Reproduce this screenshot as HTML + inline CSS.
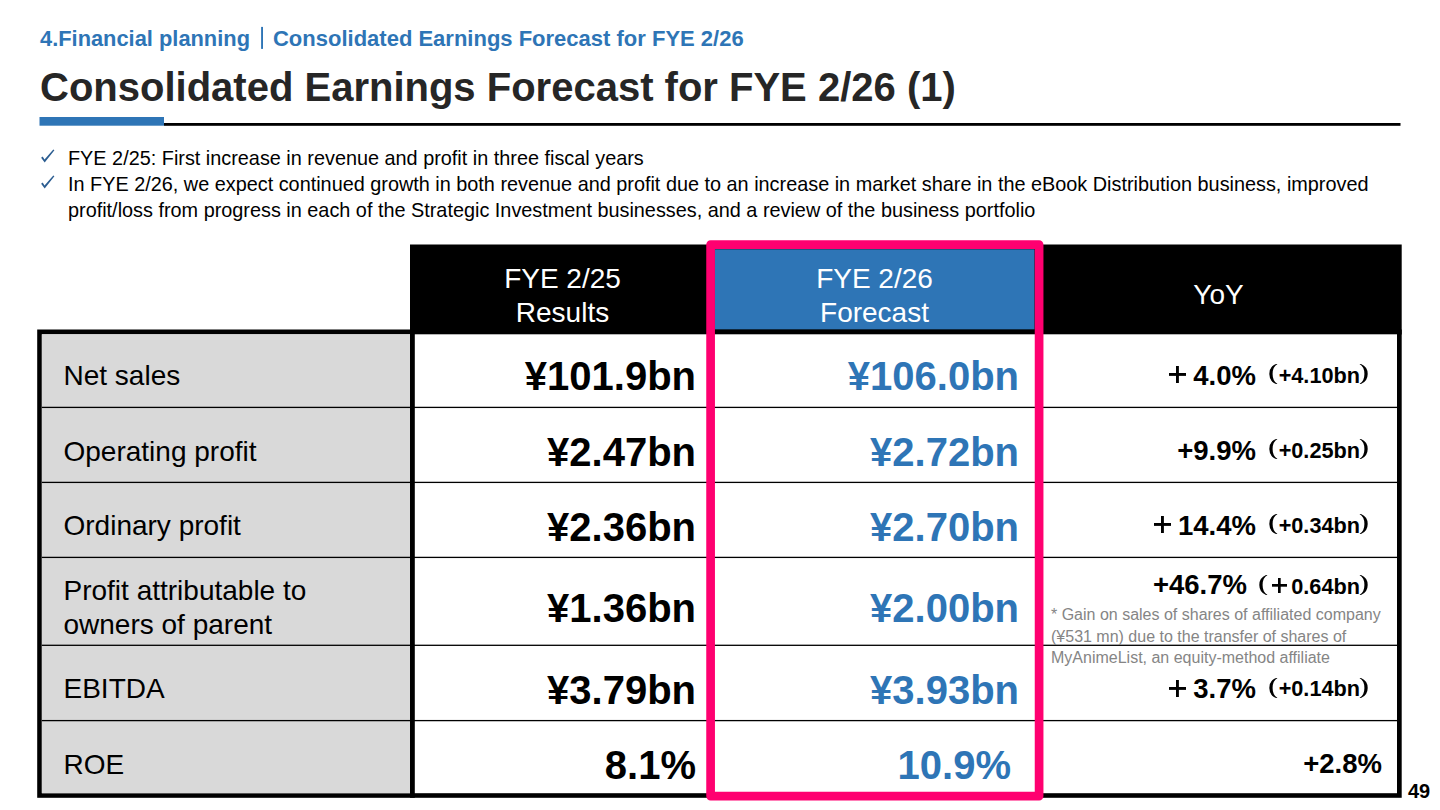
<!DOCTYPE html>
<html>
<head>
<meta charset="utf-8">
<style>
html,body{margin:0;padding:0;}
body{width:1440px;height:810px;overflow:hidden;background:#fff;position:relative;font-family:"Liberation Sans",sans-serif;color:#000;}
.a{position:absolute;white-space:nowrap;line-height:1;}
.b{font-weight:bold;}
.blue{color:#2e75b6;}
.crumb{left:40px;top:28px;font-size:21.85px;font-weight:bold;color:#2e75b6;}
.title{left:40px;top:67px;font-size:40px;font-weight:bold;color:#262626;}
.bul{left:68px;font-size:19.85px;color:#000;}
.chk{position:absolute;left:41px;width:14px;height:14px;}
.box{position:absolute;}
.lbl{left:63.5px;font-size:28px;}
.val{font-size:40px;font-weight:bold;text-align:right;}
.hd{font-size:28px;color:#fff;text-align:center;line-height:34px;}
.big{right:184px;font-size:27.5px;font-weight:bold;}
.sm{right:80px;font-size:21.7px;font-weight:bold;}
svg.par{position:absolute;}
.fwp{position:absolute;width:17px;height:17px;background:linear-gradient(#000,#000) center/100% 2.9px no-repeat,linear-gradient(#000,#000) center/2.9px 100% no-repeat;}
.fwpb{position:absolute;width:15px;height:15px;background:linear-gradient(#000,#000) center/100% 2.7px no-repeat,linear-gradient(#000,#000) center/2.7px 100% no-repeat;}
.note{font-size:16px;color:#858585;line-height:21.5px;}
</style>
</head>
<body>
<svg style="position:absolute;left:0;top:0" width="1440" height="810" viewBox="0 0 1440 810">
<rect x="261.1" y="26.9" width="1.9" height="22" fill="#2e75b6"/>
<rect x="39.5" y="117" width="124.5" height="8.7" fill="#2e75b6"/>
<rect x="164" y="123" width="1236.5" height="2.8" fill="#000"/>
<rect x="410" y="244.5" width="991.7" height="90" fill="#000"/>
<rect x="714.7" y="249.3" width="319.8" height="80.4" fill="#2e75b6"/>
<rect x="37.2" y="329.5" width="1364.5" height="468.3" fill="#000"/>
<rect x="41.85" y="334.3" width="1355.15" height="458.9" fill="#fff"/>
<rect x="41.85" y="334.3" width="368.15" height="458.9" fill="#d9d9d9"/>
<rect x="410" y="329.5" width="4.8" height="468.3" fill="#000"/>
<rect x="41.85" y="406.75" width="1355.15" height="1.3" fill="#000"/>
<rect x="41.85" y="481.75" width="1355.15" height="1.3" fill="#000"/>
<rect x="41.85" y="556.75" width="1355.15" height="1.3" fill="#000"/>
<rect x="41.85" y="644.65" width="1355.15" height="1.3" fill="#000"/>
<rect x="41.85" y="719.95" width="1355.15" height="1.3" fill="#000"/>
<rect x="710.6" y="244.65" width="328.5" height="551.45" fill="none" stroke="#ff0070" stroke-width="8.7" stroke-linejoin="round"/>
</svg>
<div class="a crumb">4.Financial planning<span style="display:inline-block;width:23px;"></span><span style="font-size:22px">Consolidated Earnings Forecast for FYE 2/26</span></div>
<div class="a title">Consolidated Earnings Forecast for FYE 2/26 (1)</div>

<svg class="chk" style="top:149px" viewBox="0 0 14 14"><path d="M0.1 8.7 L1.7 7.4 L3.5 10.5 L12.3 0.5 L13.4 1.3 L3.7 13.5 Z" fill="#2b5d91"/></svg>
<svg class="chk" style="top:175px" viewBox="0 0 14 14"><path d="M0.1 8.7 L1.7 7.4 L3.5 10.5 L12.3 0.5 L13.4 1.3 L3.7 13.5 Z" fill="#2b5d91"/></svg>
<div class="a bul" style="top:149px">FYE 2/25: First increase in revenue and profit in three fiscal years</div>
<div class="a bul" style="top:175px">In FYE 2/26, we expect continued growth in both revenue and profit due to an increase in market share in the eBook Distribution business, improved</div>
<div class="a bul" style="top:201px">profit/loss from progress in each of the Strategic Investment businesses, and a review of the business portfolio</div>

<!-- table -->

<div class="a hd" style="left:417px;width:291px;top:262px;">FYE 2/25<br>Results</div>
<div class="a hd" style="left:715px;width:319px;top:262px;">FYE 2/26<br>Forecast</div>
<div class="a hd" style="left:1040px;width:357px;top:278px;">YoY</div>

<div class="a lbl" style="top:362px">Net sales</div>
<div class="a lbl" style="top:437.5px">Operating profit</div>
<div class="a lbl" style="top:512px">Ordinary profit</div>
<div class="a lbl" style="top:574px;line-height:33.5px;">Profit attributable to<br>owners of parent</div>
<div class="a lbl" style="top:675px">EBITDA</div>
<div class="a lbl" style="top:751px">ROE</div>

<div class="a val" style="right:744px;top:356px">¥101.9bn</div>
<div class="a val" style="right:744px;top:432px">¥2.47bn</div>
<div class="a val" style="right:744px;top:507px">¥2.36bn</div>
<div class="a val" style="right:744px;top:588px">¥1.36bn</div>
<div class="a val" style="right:744px;top:670px">¥3.79bn</div>
<div class="a val" style="right:744px;top:745px">8.1%</div>

<div class="a val blue" style="right:421px;top:356px">¥106.0bn</div>
<div class="a val blue" style="right:421px;top:432px">¥2.72bn</div>
<div class="a val blue" style="right:421px;top:507px">¥2.70bn</div>
<div class="a val blue" style="right:421px;top:588px">¥2.00bn</div>
<div class="a val blue" style="right:421px;top:670px">¥3.93bn</div>
<div class="a val blue" style="right:429px;top:745px">10.9%</div>


<div class="a big" style="top:362px">4.0%</div>
<div class="fwp" style="left:1168.8px;top:366px"></div>
<div class="a sm" style="top:365px">+4.10bn</div>
<svg class="par" style="left:1267.55px;top:364px" viewBox="0 0 10 20" width="10" height="20"><path d="M8 0 A10.77 10.8 0 0 0 8 20 L9.5 20 A7.88 10.8 0 0 1 9.5 0 Z"/></svg><svg class="par" style="left:1359.4px;top:364px" viewBox="0 0 10 20" width="10" height="20"><path d="M2 0 A10.77 10.8 0 0 1 2 20 L0.5 20 A7.88 10.8 0 0 0 0.5 0 Z"/></svg>
<div class="a big" style="top:437px">+9.9%</div>
<div class="a sm" style="top:440px">+0.25bn</div>
<svg class="par" style="left:1267.55px;top:439px" viewBox="0 0 10 20" width="10" height="20"><path d="M8 0 A10.77 10.8 0 0 0 8 20 L9.5 20 A7.88 10.8 0 0 1 9.5 0 Z"/></svg><svg class="par" style="left:1359.4px;top:439px" viewBox="0 0 10 20" width="10" height="20"><path d="M2 0 A10.77 10.8 0 0 1 2 20 L0.5 20 A7.88 10.8 0 0 0 0.5 0 Z"/></svg>
<div class="a big" style="top:512px">14.4%</div>
<div class="fwp" style="left:1154.2px;top:516px"></div>
<div class="a sm" style="top:515px">+0.34bn</div>
<svg class="par" style="left:1267.55px;top:514px" viewBox="0 0 10 20" width="10" height="20"><path d="M8 0 A10.77 10.8 0 0 0 8 20 L9.5 20 A7.88 10.8 0 0 1 9.5 0 Z"/></svg><svg class="par" style="left:1359.4px;top:514px" viewBox="0 0 10 20" width="10" height="20"><path d="M2 0 A10.77 10.8 0 0 1 2 20 L0.5 20 A7.88 10.8 0 0 0 0.5 0 Z"/></svg>
<div class="a big" style="top:571px;right:193px">+46.7%</div>
<svg class="par" style="left:1258.3px;top:575px" viewBox="0 0 10 20" width="10" height="20"><path d="M8 0 A10.77 10.8 0 0 0 8 20 L9.5 20 A7.88 10.8 0 0 1 9.5 0 Z"/></svg><svg class="par" style="left:1359.4px;top:575px" viewBox="0 0 10 20" width="10" height="20"><path d="M2 0 A10.77 10.8 0 0 1 2 20 L0.5 20 A7.88 10.8 0 0 0 0.5 0 Z"/></svg>
<div class="fwpb" style="left:1272px;top:578px"></div>
<div class="a sm" style="top:576px">0.64bn</div>
<div class="a big" style="top:675px">3.7%</div>
<div class="fwp" style="left:1168.8px;top:680px"></div>
<div class="a sm" style="top:678px">+0.14bn</div>
<svg class="par" style="left:1267.55px;top:678px" viewBox="0 0 10 20" width="10" height="20"><path d="M8 0 A10.77 10.8 0 0 0 8 20 L9.5 20 A7.88 10.8 0 0 1 9.5 0 Z"/></svg><svg class="par" style="left:1359.4px;top:678px" viewBox="0 0 10 20" width="10" height="20"><path d="M2 0 A10.77 10.8 0 0 1 2 20 L0.5 20 A7.88 10.8 0 0 0 0.5 0 Z"/></svg>
<div class="a big" style="top:750px;right:58px">+2.8%</div>
<div class="a note" style="left:1051px;top:604px;">* Gain on sales of shares of affiliated company<br>(¥531 mn) due to the transfer of shares of<br>MyAnimeList, an equity-method affiliate</div>

<!-- pink highlight -->

<div class="a b" style="left:1408px;top:780.5px;font-size:20px;">49</div>
</body>
</html>
